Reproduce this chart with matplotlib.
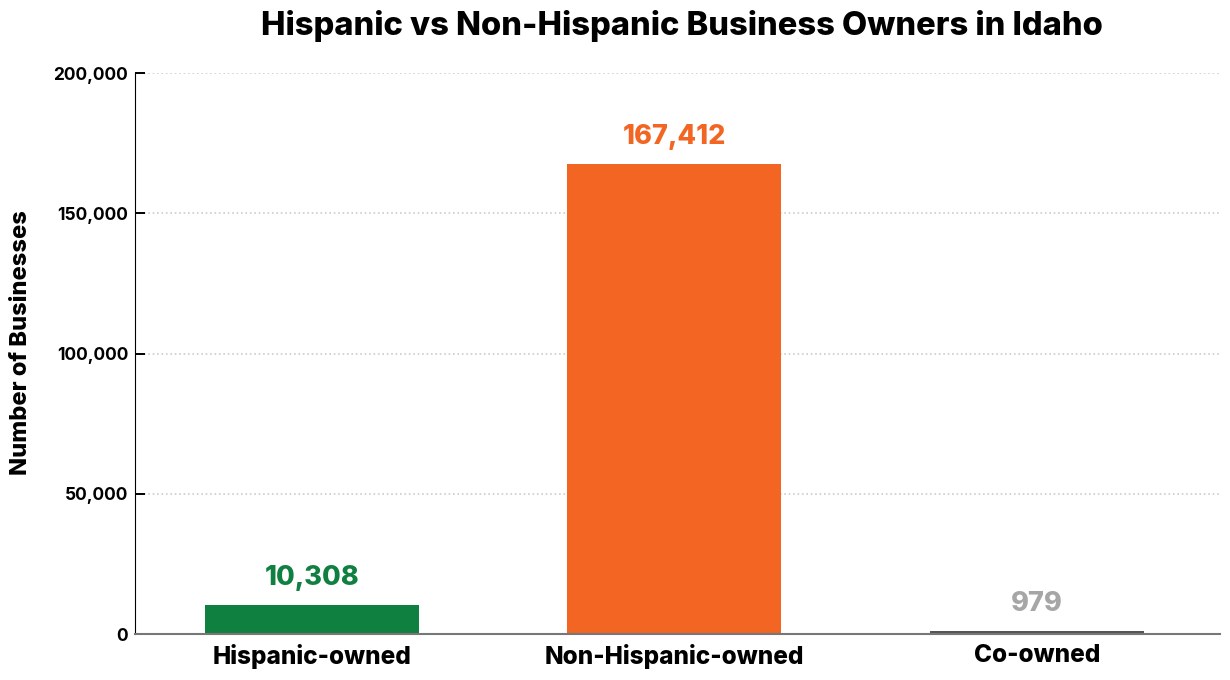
import matplotlib
matplotlib.use('Agg')
import matplotlib.pyplot as plt
from matplotlib.ticker import FuncFormatter

categories = ['Hispanic-owned', 'Non-Hispanic-owned', 'Co-owned']
values = [10308, 167412, 979]
label_texts = ['10,308', '167,412', '979']
bar_colors = ['#108040', '#f26522', '#555555']
label_colors = ['#108040', '#f26522', '#a6a6a6']
yticks = [0, 50000, 100000, 150000, 200000]

plt.rcParams['font.family'] = ['Inter', 'DejaVu Sans']

fig = plt.figure(figsize=(12.3, 6.8), dpi=100)
ax = fig.add_axes([0.1098, 0.0676, 0.8824, 0.825])

x = list(range(len(categories)))
ax.bar(x, values, width=0.59, color=bar_colors, zorder=3)

for xi, v, t, c in zip(x, values, label_texts, label_colors):
    ax.text(xi, v + 5200, t, ha='center', va='bottom', color=c,
            fontsize=19.5, fontweight=800)

ax.set_xlim(-0.487, 2.506)
ax.set_ylim(0, 200000)
ax.set_yticks(yticks)
ax.yaxis.set_major_formatter(FuncFormatter(lambda v, p: f'{int(v):,}'))
ax.set_xticks(x)
ax.set_xticklabels(categories, fontsize=17.5, fontweight=800)
ax.tick_params(axis='x', length=0, pad=7)
ax.tick_params(axis='y', direction='in', length=7.5, width=1.4,
               labelsize=12.5, pad=5)
for lbl in ax.get_yticklabels():
    lbl.set_fontweight('bold')

ax.grid(axis='y', linestyle=':', color='#cccccc', linewidth=1.2, zorder=0)
ax.spines['top'].set_visible(False)
ax.spines['right'].set_visible(False)
ax.spines['left'].set_color('black')
ax.spines['bottom'].set_color('#777777')
ax.spines['bottom'].set_linewidth(1.5)
ax.spines['bottom'].set_zorder(4)

ax.set_ylabel('Number of Businesses', fontsize=17, fontweight=800)
ax.yaxis.set_label_coords(-0.095, 0.52)
fig.text(0.5545, 0.962, 'Hispanic vs Non-Hispanic Business Owners in Idaho',
         ha='center', va='center', fontsize=23.5, fontweight=800)

fig.savefig('out.png', dpi=100)
